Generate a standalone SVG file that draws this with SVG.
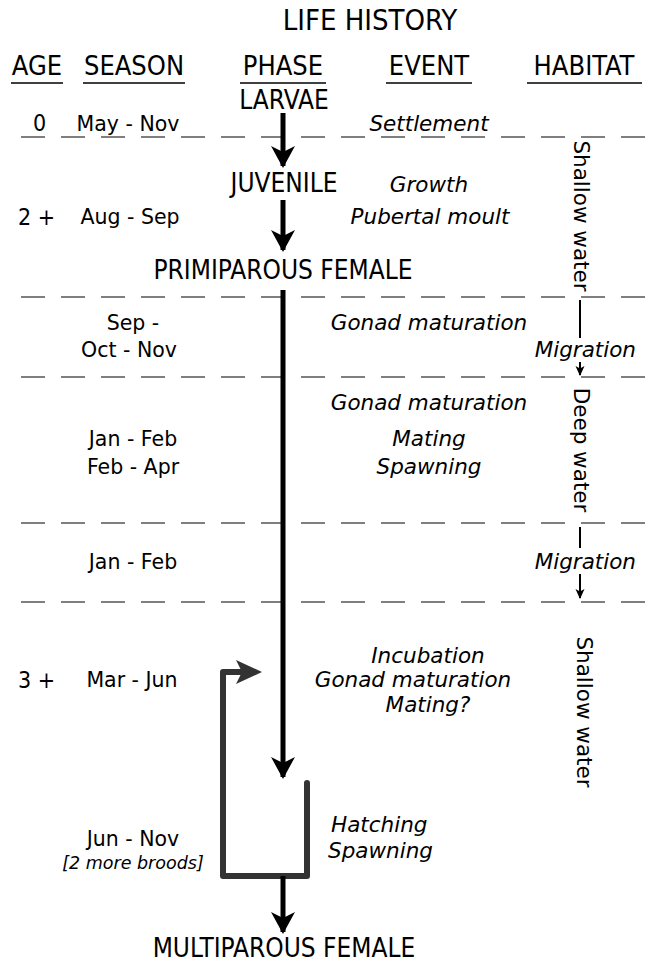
<svg xmlns="http://www.w3.org/2000/svg" width="646" height="965" viewBox="0 0 646 965">
<style>
text{font-family:"DejaVu Sans Condensed","DejaVu Sans",sans-serif;font-stretch:condensed;fill:#000}
.n{font-family:"DejaVu Sans",sans-serif;font-stretch:normal}
.t{font-size:29px;text-anchor:middle}
.h{font-size:27px;text-anchor:middle}
.p{font-size:26px;text-anchor:middle}
.s{font-size:20.5px;text-anchor:middle}
.e{font-size:21.5px;font-style:italic;text-anchor:middle}
.a{font-size:23px}
.r{font-size:21.5px;font-style:italic;text-anchor:end}
.v{font-size:21.5px;text-anchor:middle}
.dash{stroke:#555;stroke-width:1.5;stroke-dasharray:24 16;fill:none}
.ul{stroke:#000;stroke-width:1.5}
.main{stroke:#000;stroke-width:5;fill:none}
.br{stroke:#333;stroke-width:6;fill:none;stroke-linejoin:round;stroke-linecap:round}
.thin{stroke:#000;stroke-width:2;fill:none}
</style>
<defs>
<marker id="ah" viewBox="0 0 22 24" refX="20" refY="12" markerWidth="22" markerHeight="24" markerUnits="userSpaceOnUse" orient="auto">
<path d="M0,0 L22,12 L0,24 L6,12 Z" fill="#000"/>
</marker>
<marker id="sm" viewBox="0 0 10 10" refX="9" refY="5" markerWidth="10" markerHeight="10" markerUnits="userSpaceOnUse" orient="auto">
<path d="M0,0.5 L10,5 L0,9.5 L2.5,5 Z" fill="#000"/>
</marker>
</defs>
<g id="header">
<text class="t" x="370" y="30">LIFE HISTORY</text>
<text class="h" x="37" y="75">AGE</text>
<text class="h" x="134" y="75">SEASON</text>
<text class="h" x="283" y="75">PHASE</text>
<text class="h" x="429" y="75">EVENT</text>
<text class="h" x="584" y="75">HABITAT</text>
<line class="ul" x1="11" y1="83" x2="63" y2="83"/>
<line class="ul" x1="83" y1="83" x2="185" y2="83"/>
<line class="ul" x1="240" y1="83" x2="326" y2="83"/>
<line class="ul" x1="386" y1="83" x2="472" y2="83"/>
<line class="ul" x1="527" y1="83" x2="642" y2="83"/>
</g>
<g id="grid">
<line class="dash" x1="21" y1="137" x2="646" y2="137"/>
<line class="dash" x1="21" y1="297" x2="646" y2="297"/>
<line class="dash" x1="21" y1="377" x2="646" y2="377"/>
<line class="dash" x1="21" y1="523" x2="646" y2="523"/>
<line class="dash" x1="21" y1="602" x2="646" y2="602"/>
</g>
<g id="age">
<text class="a" x="33" y="131">0</text>
<text class="a" x="18" y="225">2 +</text>
<text class="a" x="18" y="688">3 +</text>
</g>
<g id="season">
<text class="s n" x="128" y="131">May - Nov</text>
<text class="s n" x="130" y="224">Aug - Sep</text>
<text class="s n" x="133" y="330">Sep -</text>
<text class="s n" x="129" y="357">Oct - Nov</text>
<text class="s n" x="133" y="446">Jan - Feb</text>
<text class="s n" x="133" y="474">Feb - Apr</text>
<text class="s n" x="133" y="569">Jan - Feb</text>
<text class="s n" x="132" y="687">Mar - Jun</text>
<text class="s n" x="133" y="846">Jun - Nov</text>
<text class="n" x="133" y="869" style="font-size:17.5px;font-style:italic;text-anchor:middle">[2 more broods]</text>
</g>
<g id="larvae"><text class="p" x="284" y="109">LARVAE</text></g>
<g id="juvenile"><text class="p" x="284" y="192">JUVENILE</text></g>
<g id="primiparous"><text class="p" x="283" y="279">PRIMIPAROUS FEMALE</text></g>
<g id="multiparous"><text class="p" x="284" y="957">MULTIPAROUS FEMALE</text></g>
<g id="events">
<text class="e n" x="429" y="131">Settlement</text>
<text class="e n" x="429" y="192">Growth</text>
<text class="e n" x="430" y="224">Pubertal moult</text>
<text class="e n" x="429" y="330">Gonad maturation</text>
<text class="e n" x="429" y="410">Gonad maturation</text>
<text class="e n" x="429" y="446">Mating</text>
<text class="e n" x="429" y="474">Spawning</text>
<text class="e n" x="428" y="663">Incubation</text>
<text class="e n" x="413" y="687">Gonad maturation</text>
<text class="e n" x="428" y="712">Mating?</text>
<text class="e n" x="331" y="832" style="text-anchor:start">Hatching</text>
<text class="e n" x="328" y="858" style="text-anchor:start">Spawning</text>
</g>
<g id="habitat">
<text class="v n" transform="translate(574,216) rotate(90)">Shallow water</text>
<text class="v n" transform="translate(574,450) rotate(90)">Deep water</text>
<text class="v n" transform="translate(577,712) rotate(90)">Shallow water</text>
<text class="r n" x="636" y="357">Migration</text>
<text class="r n" x="636" y="569">Migration</text>
</g>
<g id="connectors">
<line class="main" x1="283" y1="113" x2="283" y2="166" marker-end="url(#ah)"/>
<line class="main" x1="283" y1="200" x2="283" y2="250" marker-end="url(#ah)"/>
<line class="main" x1="283" y1="290" x2="283" y2="777" marker-end="url(#ah)"/>
<path class="br" d="M307,783 L307,876 L223,876 L223,672 L250,672"/>
<path d="M236,660 L262,672 L236,684 L242,672 Z" fill="#333"/>
<line class="main" x1="283" y1="876" x2="283" y2="932" marker-end="url(#ah)"/>
<line class="thin" x1="580" y1="300" x2="580" y2="338"/>
<line class="thin" x1="580" y1="362" x2="580" y2="375" marker-end="url(#sm)"/>
<line class="thin" x1="580" y1="527" x2="580" y2="548"/>
<line class="thin" x1="580" y1="574" x2="580" y2="598" marker-end="url(#sm)"/>
</g>
</svg>
